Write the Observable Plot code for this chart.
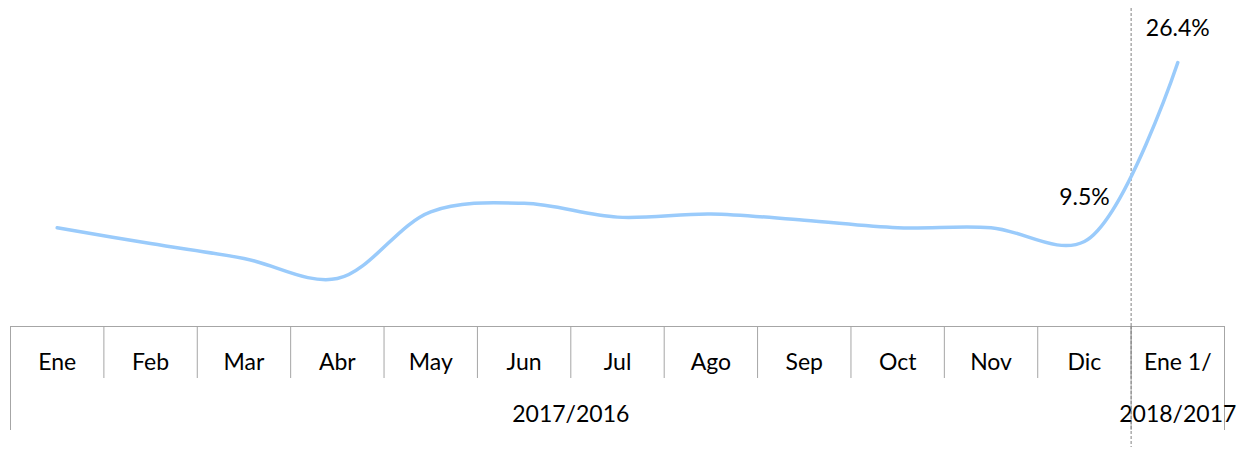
<!DOCTYPE html>
<html>
<head>
<meta charset="utf-8">
<script src="https://cdn.jsdelivr.net/npm/d3@7"></script>
<script src="https://cdn.jsdelivr.net/npm/@observablehq/plot@0.6"></script>
<style>
  html, body { margin: 0; padding: 0; background: #fff; }
</style>
</head>
<body>
<div id="chart"></div>
<script>
// Categories (monthly, year-over-year change)
const months = ["Ene", "Feb", "Mar", "Abr", "May", "Jun", "Jul", "Ago", "Sep", "Oct", "Nov", "Dic", "Ene 1/"];
// Series values (%)
const values = [10.8, 9.3, 7.9, 6.0, 12.3, 13.1, 11.8, 12.1, 11.5, 10.8, 10.8, 9.5, 26.4];
// Group labels of the second axis level
const groupLabels = ["2017/2016", "2018/2017"];
const groupStart = [0, 12];
const groupEnd = [11, 12];

const data = months.map((m, i) => ({i, m, v: values[i]}));
const boundaries = d3.range(months.length + 1).map(k => k - 0.5);
const groupBounds = [groupStart[0] - 0.5, ...groupEnd.map(e => e + 0.5)];
const groups = groupLabels.map((g, k) => ({g, c: (groupStart[k] + groupEnd[k]) / 2}));
const fmt = v => d3.format(".1f")(v) + "%";

const gray = "#A6A6A6";
const font = "Lato, 'Open Sans', sans-serif";

const chart = Plot.plot({
  width: 1237,
  height: 449,
  marginTop: 0,
  marginBottom: 123,
  marginLeft: 10,
  marginRight: 13,
  style: {fontFamily: font, fontSize: "23px", color: "#000", background: "#fff"},
  x: {type: "linear", domain: [-0.5, months.length - 0.5], axis: null},
  y: {type: "linear", domain: [1.47, 32.26], axis: null},
  marks: [
    Plot.frame({anchor: "bottom", stroke: gray}),
    // category boundary ticks
    Plot.axisX(boundaries, {anchor: "bottom", tickSize: 52, tickFormat: () => "", stroke: gray, label: null}),
    // group boundary ticks
    Plot.axisX(groupBounds, {anchor: "bottom", tickSize: 104, tickFormat: () => "", stroke: gray, label: null}),
    // category labels
    Plot.axisX(data.map(d => d.i), {anchor: "bottom", tickSize: 0, tickPadding: 27, tickFormat: i => months[i], fill: "#000", fontSize: 23, label: null}),
    // group labels
    Plot.axisX(groups.map(d => d.c), {anchor: "bottom", tickSize: 0, tickPadding: 79, tickFormat: c => groups.find(d => d.c === c).g, fill: "#000", fontSize: 23, label: null}),
    // dashed separator between years
    Plot.ruleX([groupBounds[1]], {stroke: "#808080", strokeWidth: 1, strokeDasharray: "3,2", insetTop: 8}),
    Plot.axisX([groupBounds[1]], {anchor: "bottom", tickSize: 121, tickFormat: () => "", stroke: "#808080", strokeDasharray: "3,2", label: null}),
    // the series
    Plot.line(data, {x: "i", y: "v", curve: "catmull-rom", stroke: "#9ACBFB", strokeWidth: 3.5}),
    // data labels
    Plot.text(data.filter(d => d.i === 11), {x: "i", y: "v", text: d => fmt(d.v), dy: -44, fill: "#000", fontSize: 23}),
    Plot.text(data.filter(d => d.i === 12), {x: "i", y: "v", text: d => fmt(d.v), dy: -34, fill: "#000", fontSize: 23})
  ]
});
document.getElementById("chart").appendChild(chart);
</script>
</body>
</html>
